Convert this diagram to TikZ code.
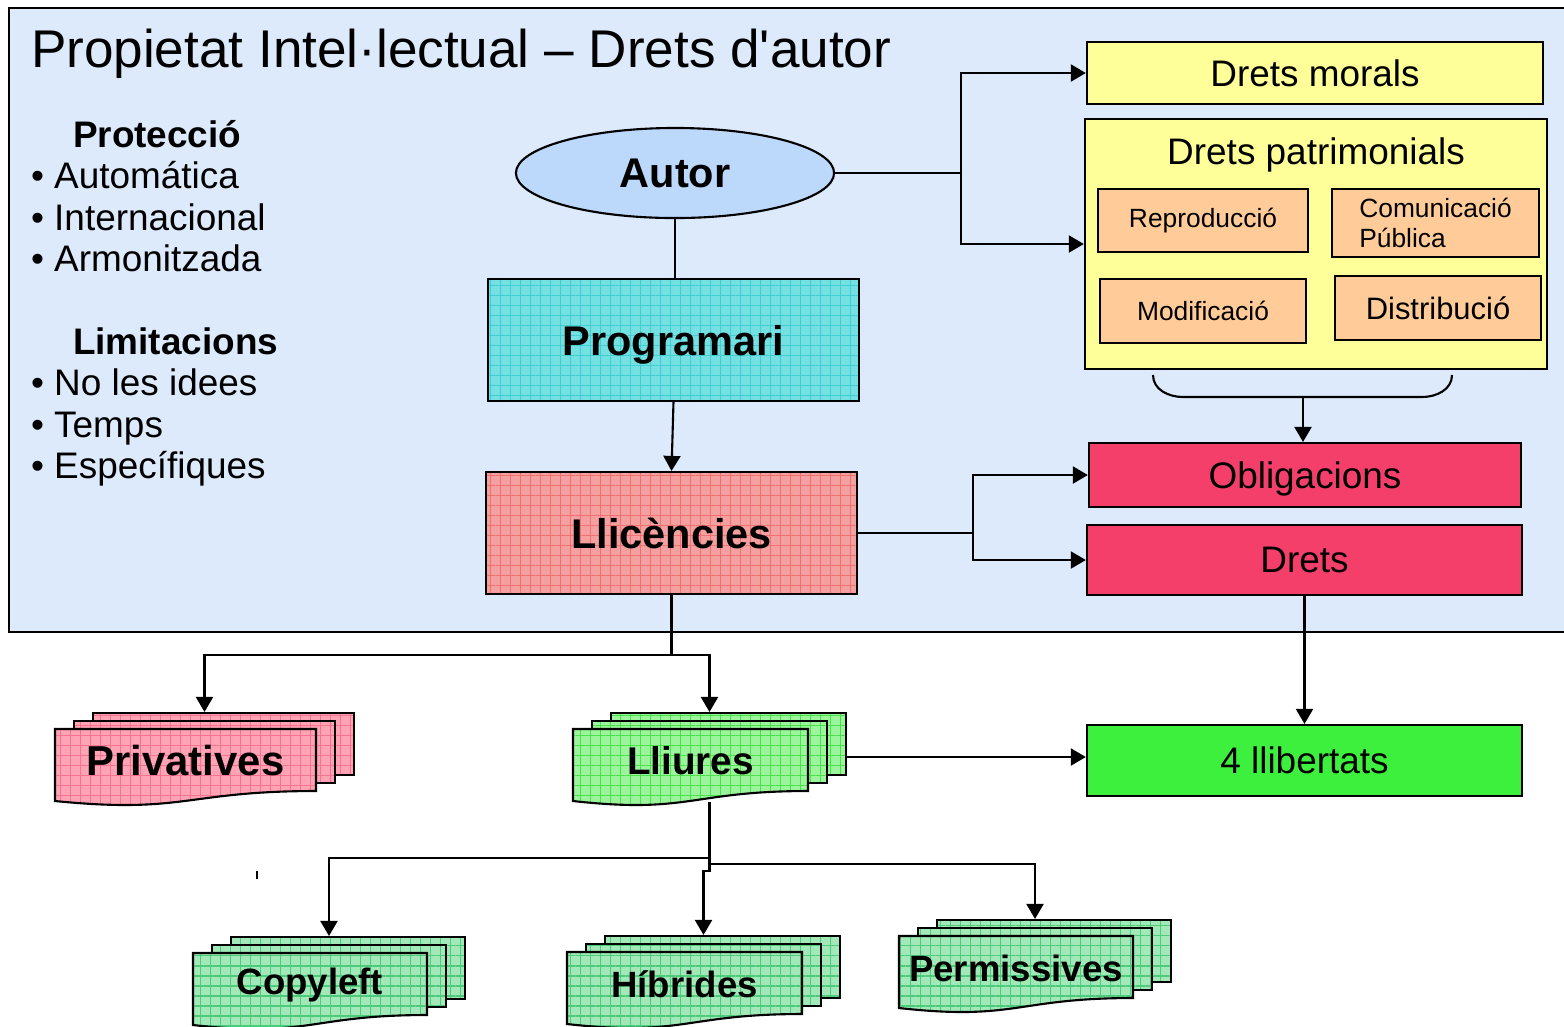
\documentclass[tikz,border=0pt]{standalone}
\usepackage{fontspec}
\setmainfont{Liberation Sans}
\usetikzlibrary{arrows.meta,shapes.geometric,patterns.meta,fit}
\definecolor{bgblue}{HTML}{DCEAFB}
\definecolor{autorfill}{HTML}{BCD8FA}
\definecolor{progfill}{HTML}{74E0E2}
\definecolor{progline}{HTML}{3FCFD2}
\definecolor{licfill}{HTML}{F4A0A0}
\definecolor{licline}{HTML}{F07070}
\definecolor{yellowfill}{HTML}{FFFF99}
\definecolor{orangefill}{HTML}{FFCC99}
\definecolor{redfill}{HTML}{F43F6A}
\definecolor{libfill}{HTML}{3DF03D}
\definecolor{privfill}{HTML}{FFA3B5}
\definecolor{privline}{HTML}{F5738F}
\definecolor{lliufill}{HTML}{9CF59C}
\definecolor{lliuline}{HTML}{4AE04A}
\definecolor{hybfill}{HTML}{A3E8B8}
\definecolor{hybline}{HTML}{4CCB7A}
\tikzset{font={\fontsize{10.5pt}{12.5pt}\selectfont}}

% three stacked sheets: name, front left, front top, width, fill, text
\newcommand{\docstack}[6]{%
  \foreach \k in {2,1}
    \draw[sheet,#5] (#2+19*\k,#3-8*\k) rectangle ++(#4,62);
  \draw[sheet,#5] (#2,#3) -- (#2+#4,#3) -- (#2+#4,#3+62)
    .. controls (#2+#4/2,#3+62) and (#2+#4/2,#3+85) .. (#2,#3+72) -- cycle;
  \node[stacklbl] (#1-txt) at (#2+#4/2,#3+32) {#6};
  \path (#2,#3-16) coordinate (#1-nw) (#2+38+#4,#3+72) coordinate (#1-se);
  \node[fit=(#1-nw)(#1-se),inner sep=0pt] (#1) {};
}

\begin{document}
\begin{tikzpicture}[x=0.01cm,y=-0.01cm,>={Triangle[length=0.15cm,width=0.17cm]},
    line width=0.6pt,
    box/.style={rectangle,draw,inner sep=0pt,text depth=0pt},
    txt/.style={font=\fontsize{10.5pt}{12.5pt}\selectfont},
    txtb/.style={font=\fontsize{10.5pt}{12.5pt}\selectfont\bfseries},
    bigbold/.style={font=\fontsize{11.8pt}{14pt}\selectfont\bfseries},
    orangebox/.style={rectangle,draw,inner sep=0pt,fill=orangefill,font=\fontsize{7.5pt}{8.5pt}\selectfont},
    gridfill/.style 2 args={preaction={fill=#1},
      pattern={Hatch[distance=0.1cm,angle=0,line width=0.3pt]},pattern color=#2},
    sheet/.style={draw,line width=0.6pt},
    stacklbl/.style={font=\fontsize{10.4pt}{12pt}\selectfont\bfseries,inner sep=0pt},
    item/.style={anchor=base west,inner sep=0pt}]

  \clip (0,0) rectangle (1564,1026);
  \draw[fill=bgblue] (9,8) rectangle (1600,632);

  \node[item,font=\fontsize{15.1pt}{18pt}\selectfont] (title) at (30,67)
    {Propietat Intel·lectual – Drets d\textquotesingle autor};

  % left lists
  \node[item,txtb] (prot) at (72,147) {Protecció};
  \foreach \t [count=\i] in {Automática,Internacional,Armonitzada}
    \node[item,txt] (prot\i) at (30,147+41.5*\i) {• \t};
  \node[item,txtb] (lim) at (72,354) {Limitacions};
  \foreach \t [count=\i] in {No les idees,Temps,Específiques}
    \node[item,txt] (lim\i) at (30,354+41.5*\i) {• \t};

  % middle column
  \node[ellipse,draw,fill=autorfill,minimum width=3.18cm,minimum height=0.9cm,
        inner sep=0pt,bigbold] (autor) at (675,173) {Autor};
  \node[box,gridfill={progfill}{progline},minimum width=3.71cm,minimum height=1.22cm,
        bigbold] (prog) at (673.5,340) {Programari};
  \node[box,gridfill={licfill}{licline},minimum width=3.71cm,minimum height=1.22cm,
        bigbold] (lic) at (671.5,533) {Llicències};

  % rights
  \node[box,fill=yellowfill,minimum width=4.56cm,minimum height=0.62cm,txt]
    (morals) at (1315,73) {Drets morals};
  \node[box,fill=yellowfill,minimum width=4.62cm,minimum height=2.5cm] (patr) at (1316,244) {};
  \node[txt,text depth=0pt] (patrtitle) at (1316,151) {Drets patrimonials};
  \node[orangebox,minimum width=2.1cm,minimum height=0.63cm] (repro) at (1203,220.5) {Reproducció};
  \node[orangebox,minimum width=2.07cm,minimum height=0.68cm,align=left]
    (comu) at (1435.5,223) {Comunicació\\Pública};
  \node[orangebox,minimum width=2.06cm,minimum height=0.64cm] (modif) at (1203,311) {Modificació};
  \node[orangebox,minimum width=2.06cm,minimum height=0.64cm,
        font=\fontsize{8.8pt}{10pt}\selectfont] (distr) at (1438,308) {Distribució};

  \node[box,fill=redfill,minimum width=4.32cm,minimum height=0.64cm,txt]
    (oblig) at (1305,475) {Obligacions};
  \node[box,fill=redfill,minimum width=4.35cm,minimum height=0.7cm,txt]
    (drets) at (1304.5,560) {Drets};
  \node[box,fill=libfill,minimum width=4.35cm,minimum height=0.71cm,txt]
    (lib) at (1304.5,760.5) {4 llibertats};

  % licence types
  \docstack{priv}{55}{729}{261}{gridfill={privfill}{privline}}{\fontsize{11.9pt}{14pt}\selectfont Privatives}
  \docstack{lliu}{573}{729}{235}{gridfill={lliufill}{lliuline}}{\fontsize{11pt}{13pt}\selectfont Lliures}
  \docstack{copy}{193}{953}{234}{gridfill={hybfill}{hybline}}{Copyleft}
  \docstack{hib}{567}{952}{235}{gridfill={hybfill}{hybline}}{Híbrides}
  \docstack{perm}{899}{936}{234}{gridfill={hybfill}{hybline}}{Permissives}

  % brace under Drets patrimonials
  \draw (1153,375) to[out=-90,in=180] (1183,397) -- (1422,397) to[out=0,in=-90] (1452,375);
  \coordinate (brace) at (1303,397);

  % connectors
  \draw (autor.east) -- ++(126,0) coordinate (ja);
  \draw[->] (ja) |- (morals.west);
  \draw[->] (ja) |- (patr.west);
  \draw (autor.south) -- (autor.south |- prog.north);
  \draw[->] (prog.south) -- (lic.north);
  \draw[->] (brace) -- (brace |- oblig.north);
  \draw (lic.east) -- ++(115,0) coordinate (jl);
  \draw[->] (jl) |- (oblig.west);
  \draw[->] (jl) |- (drets.west);
  \draw[->] (drets.south) -- (lib.north);
  \draw (lic.south) -- ++(0,60) coordinate (jp);
  \draw[->] (jp) -| (priv.north);
  \draw[->] (jp) -| (lliu.north);
  \draw[->] (lliu.east) -- (lliu.east -| lib.west);
  \draw (lliu.south) -- ++(0,56) coordinate (jv);
  \draw[->] (jv) -| (copy.north);
  \draw[->] (jv) -- ++(0,6) -| (perm.north);
  \draw[->] (jv) -- ++(0,13) -| (hib.north);

  \draw (257,871) -- (257,879);
\end{tikzpicture}
\end{document}
